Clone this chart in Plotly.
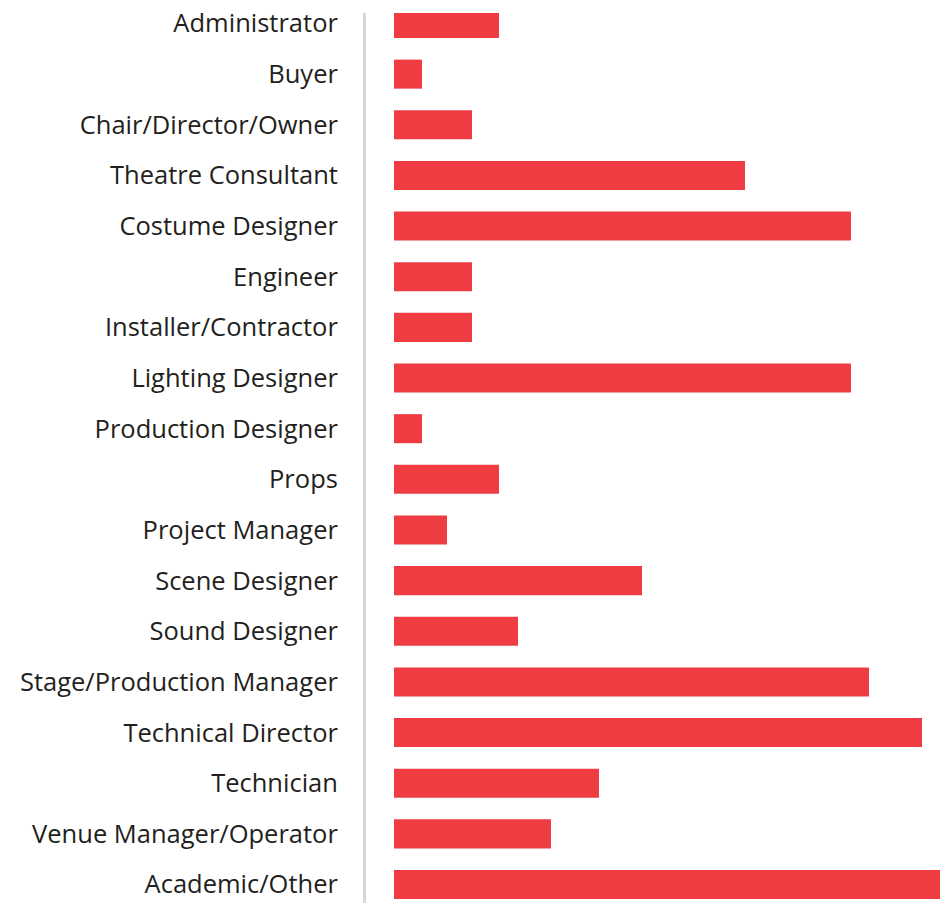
import plotly.graph_objects as go

categories = [
    "Administrator", "Buyer", "Chair/Director/Owner", "Theatre Consultant",
    "Costume Designer", "Engineer", "Installer/Contractor", "Lighting Designer",
    "Production Designer", "Props", "Project Manager", "Scene Designer",
    "Sound Designer", "Stage/Production Manager", "Technical Director",
    "Technician", "Venue Manager/Operator", "Academic/Other",
]
values = [105, 28, 78, 351, 457, 78, 78, 457, 28, 105, 53, 248, 124, 475, 528, 205, 157, 546]

fig = go.Figure(go.Bar(
    x=values, y=categories, orientation="h",
    marker=dict(color="#EF3C42", line=dict(width=0)),
    hoverinfo="skip",
))

fig.update_layout(
    width=940, height=903,
    margin=dict(l=366, r=0, t=13, b=0),
    paper_bgcolor="white", plot_bgcolor="white",
    showlegend=False, bargap=0.427,
    font=dict(family="Open Sans", size=25.5, color="#231F20"),
)
fig.update_xaxes(range=[-28, 546], visible=False, showgrid=False, zeroline=False)
fig.update_yaxes(
    range=[17.365, -0.207], showgrid=False, zeroline=False,
    showline=True, linecolor="#D6D6D6", linewidth=3,
    ticks="", ticklabelstandoff=20,
)

fig.write_html(
    "out.html",
    config={"displayModeBar": False},
    post_script="document.body.style.margin='0';document.body.style.overflow='hidden';",
)
